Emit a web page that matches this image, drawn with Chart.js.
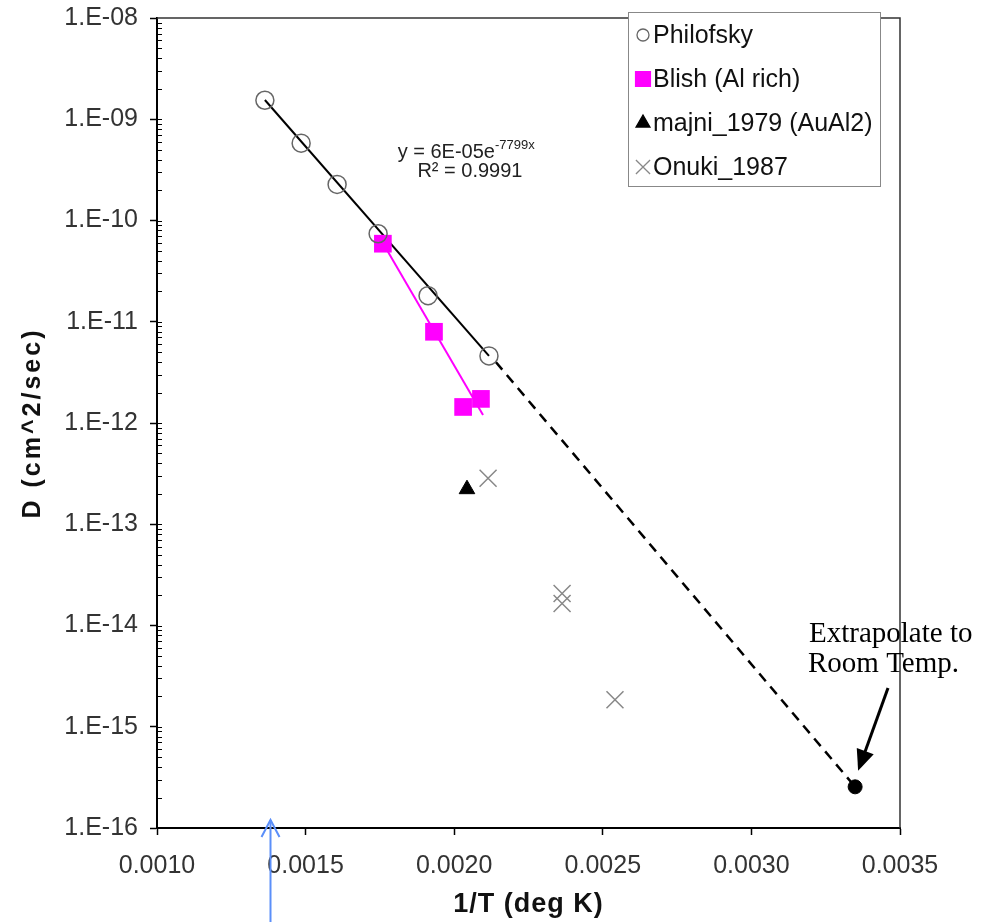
<!DOCTYPE html>
<html>
<head>
<meta charset="utf-8">
<script src="https://cdn.jsdelivr.net/npm/chart.js@4.4.1/dist/chart.umd.min.js"></script>
<style>
  html, body { margin: 0; padding: 0; background: #fff; }
  #wrap { width: 988px; height: 922px; }
</style>
</head>
<body>
<div id="wrap"><canvas id="mycan1" width="988" height="922"></canvas></div>
<script>
// data (x = 1/T, y = D in cm^2/sec)
var philofskyX = [0.001363, 0.001485, 0.001606, 0.001744, 0.001912, 0.002117];
var philofskyY = [1.54e-9, 5.8e-10, 2.27e-10, 7.4e-11, 1.81e-11, 4.6e-12];

var blishX = [0.00176, 0.001932, 0.00203, 0.00209];
var blishY = [5.9e-11, 7.96e-12, 1.44e-12, 1.73e-12];

var majniX = [0.002043];
var majniY = [2.22e-13];

var onukiX = [0.002114, 0.002363, 0.002363, 0.002541];
var onukiY = [2.85e-13, 2.07e-14, 1.65e-14, 1.85e-15];

// trend lines (end points)
var fitX = [0.001363, 0.002117];
var fitY = [1.55e-9, 4.6e-12];
var blishFitX = [0.00176, 0.002097];
var blishFitY = [6.0e-11, 1.2e-12];
var extrapX = [0.00214, 0.003349];
var extrapY = [4.0e-12, 2.55e-16];

var roomX = [0.003349];
var roomY = [2.55e-16];

var xTicks = [0.0010, 0.0015, 0.0020, 0.0025, 0.0030, 0.0035];
var yDecades = [1e-16, 1e-15, 1e-14, 1e-13, 1e-12, 1e-11, 1e-10, 1e-9, 1e-8];

function pts(xs, ys) {
  var out = [];
  for (var i in xs) out.push({x: xs[i], y: ys[i]});
  return out;
}

var FONT = "'Liberation Sans', Arial, sans-serif";

// minor ticks, frame, titles, legend and notes
var extras = {
  id: 'extras',
  afterDraw: function(chart) {
    var ctx = chart.ctx;
    var a = chart.chartArea;
    var xs = chart.scales.x, ys = chart.scales.y;
    ctx.save();

    // top/right frame
    ctx.strokeStyle = '#333';
    ctx.lineWidth = 1.5;
    ctx.beginPath();
    ctx.moveTo(a.left, a.top); ctx.lineTo(a.right, a.top); ctx.lineTo(a.right, a.bottom);
    ctx.stroke();

    // log minor ticks inside left axis
    ctx.strokeStyle = '#000';
    ctx.lineWidth = 1;
    for (var d = 0; d < yDecades.length - 1; d++) {
      for (var m = 1; m <= 9; m++) {
        var py = Math.round(ys.getPixelForValue(yDecades[d] * m)) + 0.5;
        ctx.beginPath(); ctx.moveTo(a.left, py); ctx.lineTo(a.left + 5, py); ctx.stroke();
      }
    }

    // axis titles
    ctx.fillStyle = '#111';
    ctx.textBaseline = 'middle';
    ctx.textAlign = 'center';
    ctx.font = 'bold 27px ' + FONT;
    ctx.letterSpacing = '1px';
    ctx.fillText('1/T (deg K)', (a.left + a.right) / 2, 905);
    ctx.save();
    ctx.translate(33, (a.top + a.bottom) / 2);
    ctx.rotate(-Math.PI / 2);
    ctx.font = 'bold 25px ' + FONT;
    ctx.letterSpacing = '3px';
    ctx.fillText('D (cm^2/sec)', 0, 0);
    ctx.restore();
    ctx.letterSpacing = '0px';

    // legend
    var lx = 628, ly = 12, lw = 252, lh = 174;
    ctx.fillStyle = '#fff';
    ctx.fillRect(lx, ly, lw, lh);
    ctx.strokeStyle = '#888';
    ctx.lineWidth = 1;
    ctx.strokeRect(lx + 0.5, ly + 0.5, lw, lh);
    var ds = chart.data.datasets;
    ctx.font = '25px ' + FONT;
    ctx.textAlign = 'left';
    for (var r = 0; r < 4; r++) {
      var s = ds[r];
      var cy = 35 + r * 44;
      ctx.fillStyle = s.backgroundColor;
      ctx.strokeStyle = s.borderColor;
      ctx.lineWidth = 1.3;
      Chart.helpers.drawPoint(ctx, {pointStyle: s.pointStyle, rotation: 0, borderWidth: 1.3,
        radius: s.legendRadius}, 643, cy);
      ctx.fillStyle = '#111';
      ctx.fillText(s.label, 653, cy + 1);
    }

    // fit equation
    var ex = xs.getPixelForValue(0.002137), ey = ys.getPixelForValue(4.7e-10);
    ctx.fillStyle = '#222';
    ctx.font = '20px ' + FONT;
    ctx.textAlign = 'right';
    ctx.fillText('y = 6E-05e', ex, ey);
    ctx.font = '13px ' + FONT;
    ctx.textAlign = 'left';
    ctx.fillText('-7799x', ex, ey - 7);
    ctx.font = '20px ' + FONT;
    ctx.textAlign = 'center';
    ctx.fillText('R\u00b2 = 0.9991', ex - 25, ey + 19);

    // extrapolation note (serif)
    ctx.fillStyle = '#000';
    ctx.font = '29px "Liberation Serif", "Times New Roman", serif';
    ctx.textAlign = 'left';
    ctx.fillText('Extrapolate to', 809, 634);
    ctx.fillText('Room Temp.', 808, 664);

    // black arrow to extrapolated point
    var tx = xs.getPixelForValue(roomX[0]) + 3, ty = ys.getPixelForValue(roomY[0]) - 16;
    var sx = 888, sy = 688;
    var ang = Math.atan2(ty - sy, tx - sx);
    ctx.strokeStyle = '#000';
    ctx.lineWidth = 3;
    ctx.beginPath(); ctx.moveTo(sx, sy);
    ctx.lineTo(tx - 14 * Math.cos(ang), ty - 14 * Math.sin(ang)); ctx.stroke();
    ctx.beginPath();
    ctx.moveTo(tx, ty);
    ctx.lineTo(tx - 21 * Math.cos(ang) + 9 * Math.sin(ang), ty - 21 * Math.sin(ang) - 9 * Math.cos(ang));
    ctx.lineTo(tx - 21 * Math.cos(ang) - 9 * Math.sin(ang), ty - 21 * Math.sin(ang) + 9 * Math.cos(ang));
    ctx.closePath(); ctx.fill();

    // blue arrow from below
    var bx = Math.round(xs.getPixelForValue(0.00138)) + 0.5;
    var tipY = a.bottom - 8;
    ctx.strokeStyle = '#5b8ff9';
    ctx.lineWidth = 2;
    ctx.beginPath(); ctx.moveTo(bx, 922); ctx.lineTo(bx, tipY); ctx.stroke();
    ctx.beginPath();
    ctx.moveTo(bx - 9, tipY + 17); ctx.lineTo(bx, tipY); ctx.lineTo(bx + 9, tipY + 17);
    ctx.stroke();

    ctx.restore();
  }
};

var ctx = document.getElementById('mycan1');
var chart = new Chart(ctx, {
  type: 'scatter',
  data: {
    datasets: [
      { label: 'Philofsky', data: pts(philofskyX, philofskyY), pointStyle: 'circle',
        pointRadius: 9, legendRadius: 6, backgroundColor: 'rgba(255,255,255,0)', borderColor: '#666',
        pointBorderWidth: 1.5, order: 1 },
      { label: 'Blish (Al rich)', data: pts(blishX, blishY), pointStyle: 'rect',
        pointRadius: 12.5, legendRadius: 10.5, backgroundColor: '#ff00ff', borderColor: '#ff00ff',
        pointBorderWidth: 0, order: 2 },
      { label: 'majni_1979 (AuAl2)', data: pts(majniX, majniY), pointStyle: 'triangle',
        pointRadius: 9, legendRadius: 8, backgroundColor: '#000', borderColor: '#000',
        pointBorderWidth: 1, order: 3 },
      { label: 'Onuki_1987', data: pts(onukiX, onukiY), pointStyle: 'crossRot',
        pointRadius: 12, legendRadius: 10, backgroundColor: '#888', borderColor: '#888',
        pointBorderWidth: 1.5, order: 4 },
      { type: 'line', label: 'fit', data: pts(fitX, fitY), borderColor: '#000', borderWidth: 2,
        pointRadius: 0, showLine: true, fill: false, order: 5 },
      { type: 'line', label: 'blish fit', data: pts(blishFitX, blishFitY), borderColor: '#ff00ff',
        borderWidth: 2, pointRadius: 0, showLine: true, fill: false, order: 6 },
      { type: 'line', label: 'extrapolation', data: pts(extrapX, extrapY), borderColor: '#000',
        borderWidth: 2.5, borderDash: [10, 7], pointRadius: 0, showLine: true, fill: false, order: 7 },
      { label: 'room temp', data: pts(roomX, roomY), pointStyle: 'circle', pointRadius: 7,
        backgroundColor: '#000', borderColor: '#000', order: 0 }
    ]
  },
  options: {
    responsive: false,
    animation: false,
    layout: { padding: { top: 18, right: 88, left: 0, bottom: 0 } },
    plugins: { legend: { display: false }, tooltip: { enabled: false } },
    scales: {
      x: {
        type: 'linear', min: 0.001, max: 0.0035,
        afterBuildTicks: function(scale) { scale.ticks = xTicks.map(function(v) { return {value: v}; }); },
        afterFit: function(scale) { scale.height = 94; scale.paddingLeft = 0; scale.paddingRight = 0; },
        ticks: { font: { family: FONT, size: 25 }, color: '#333', padding: 16,
          maxRotation: 0, callback: function(v) { return Number(v).toFixed(4); } },
        grid: { display: true, drawOnChartArea: false, drawTicks: true, tickLength: 7, tickColor: '#000', tickWidth: 1.5 },
        border: { display: true, color: '#000', width: 2 }
      },
      y: {
        type: 'logarithmic', min: 1e-16, max: 1e-8,
        afterBuildTicks: function(scale) { scale.ticks = yDecades.map(function(v) { return {value: v}; }); },
        afterFit: function(scale) { scale.width = 157; scale.paddingTop = 0; scale.paddingBottom = 0; },
        ticks: { font: { family: FONT, size: 25 }, color: '#333', padding: 12,
          callback: function(v) {
            var e = Math.round(Math.log10(v));
            var n = Math.abs(e);
            return '1.E' + (e < 0 ? '-' : '+') + (n < 10 ? '0' + n : n);
          } },
        grid: { display: true, drawOnChartArea: false, drawTicks: true, tickLength: 7, tickColor: '#000', tickWidth: 1.5 },
        border: { display: true, color: '#000', width: 2 }
      }
    }
  },
  plugins: [extras]
});
</script>
</body>
</html>
